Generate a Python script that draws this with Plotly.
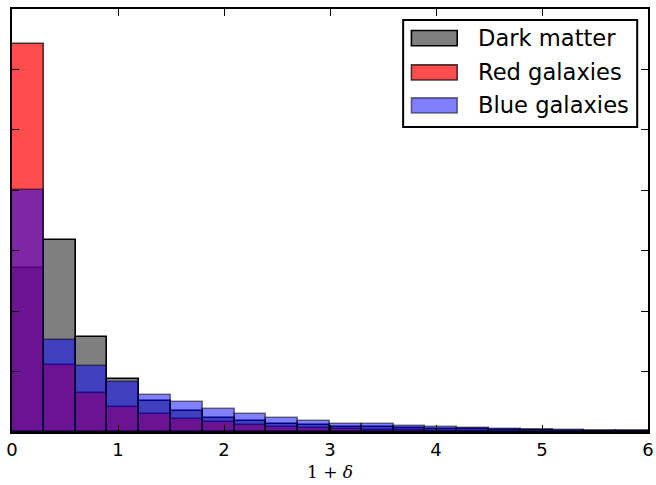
import plotly.graph_objects as go

# ---- data ----
bin_width = 0.3
bin_centers = [round(0.15 + 0.3 * i, 2) for i in range(20)]
dark_matter = [2.72, 3.18, 1.57, 0.87, 0.52, 0.35, 0.24, 0.18, 0.13, 0.12,
               0.09, 0.08, 0.06, 0.05, 0.045, 0.035, 0.03, 0.02, 0.015, 0.01]
red_galaxies = [6.42, 1.11, 0.65, 0.42, 0.30, 0.22, 0.16, 0.12, 0.09, 0.07,
                0.05, 0.035, 0.025, 0.018, 0.012, 0.008, 0.006, 0.004, 0.003, 0.002]
blue_galaxies = [4.01, 1.53, 1.10, 0.82, 0.62, 0.49, 0.38, 0.29, 0.24, 0.19,
                 0.14, 0.126, 0.094, 0.078, 0.061, 0.045, 0.035, 0.025, 0.018, 0.012]
series_names = ["Dark matter", "Red galaxies", "Blue galaxies"]
x_ticks = [0, 1, 2, 3, 4, 5, 6]

fills = ["rgba(0,0,0,0.5)", "rgba(255,0,0,0.7)", "rgba(0,0,255,0.5)"]
edges = ["rgba(0,0,0,1)", "rgba(0,0,0,0.7)", "rgba(0,0,0,0.5)"]

fig = go.Figure()
for name, vals, fc, ec in zip(series_names, [dark_matter, red_galaxies, blue_galaxies], fills, edges):
    fig.add_trace(go.Bar(
        x=bin_centers, y=vals, width=bin_width, name=name,
        marker=dict(color=fc, line=dict(color=ec, width=1.6)),
        showlegend=False,
    ))

# manual matplotlib-style legend
fig.add_shape(type="rect", xref="paper", yref="paper",
              x0=0.615, x1=0.983, y0=0.721, y1=0.974,
              line=dict(color="black", width=2), fillcolor="white", layer="above")
row_y = [0.931, 0.850, 0.772]
for name, fc, ec, yc in zip(series_names, fills, edges, row_y):
    fig.add_shape(type="rect", xref="paper", yref="paper",
                  x0=0.628, x1=0.700, y0=yc - 0.018, y1=yc + 0.018,
                  line=dict(color=ec, width=1.6), fillcolor=fc, layer="above")
    fig.add_annotation(xref="paper", yref="paper", x=0.730, y=yc, text=name,
                       showarrow=False, xanchor="left", yanchor="middle",
                       font=dict(family="DejaVu Sans", size=22.6, color="black"))

fig.update_layout(
    width=656, height=485,
    margin=dict(l=12, r=8, t=9, b=53),
    barmode="overlay", bargap=0,
    plot_bgcolor="white", paper_bgcolor="white",
    font=dict(family="DejaVu Sans", size=18, color="black"),
)
fig.update_xaxes(
    range=[0, 6], tickvals=x_ticks, ticktext=[str(t) for t in x_ticks],
    ticks="inside", ticklen=7, tickwidth=1.2, tickcolor="black",
    showline=True, linecolor="black", linewidth=2, mirror="allticks",
    showgrid=False, zeroline=False, automargin=False,
    tickfont=dict(family="DejaVu Sans", size=18, color="black"),
    title=dict(text="1 + <i>δ</i>", font=dict(family="DejaVu Serif", size=17, color="black"), standoff=8),
)
fig.update_yaxes(
    range=[0, 7], dtick=1, showticklabels=False, automargin=False,
    ticks="inside", ticklen=7, tickwidth=1.2, tickcolor="black",
    showline=True, linecolor="black", linewidth=2, mirror="allticks",
    showgrid=False, zeroline=False,
)

fig.write_html("out.html")
